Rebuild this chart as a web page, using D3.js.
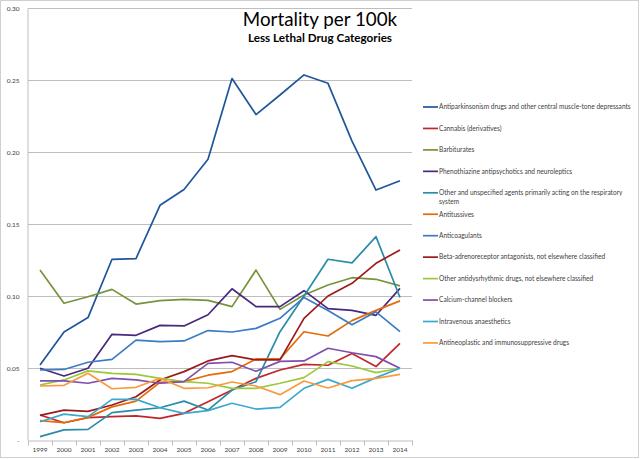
<!DOCTYPE html>
<html>
<head>
<meta charset="utf-8">
<script src="https://cdn.jsdelivr.net/npm/d3@7"></script>
<style>
  body { margin: 0; background: #fff; }
  svg { display: block; font-family: Lato, "Liberation Sans", sans-serif; }
</style>
</head>
<body>
<div id="chart"></div>
<script>
// ---------- data ----------
var years = ["1999","2000","2001","2002","2003","2004","2005","2006",
             "2007","2008","2009","2010","2011","2012","2013","2014"];

var antiparkinsonism = [0.052, 0.075, 0.085, 0.1255, 0.126, 0.163, 0.174, 0.195, 0.251, 0.226, 0.2396, 0.2535, 0.2477, 0.2076, 0.1736, 0.180];
var cannabis         = [0.0174, 0.012, 0.0155, 0.0162, 0.0167, 0.015, 0.0185, 0.0266, 0.0347, 0.0428, 0.0486, 0.0525, 0.0519, 0.060, 0.051, 0.0671];
var barbiturates     = [0.118, 0.095, 0.0995, 0.1046, 0.0944, 0.0968, 0.0977, 0.097, 0.0926, 0.118, 0.0907, 0.1007, 0.1076, 0.1127, 0.1116, 0.107];
var phenothiazine    = [0.0498, 0.0444, 0.0498, 0.0734, 0.0727, 0.0796, 0.0792, 0.087, 0.105, 0.0926, 0.0926, 0.1037, 0.0912, 0.090, 0.0866, 0.1053];
var respiratory      = [0.0023, 0.007, 0.0074, 0.019, 0.0208, 0.0224, 0.027, 0.0208, 0.0347, 0.0405, 0.0752, 0.100, 0.1255, 0.123, 0.1412, 0.099];
var antitussives     = [0.0134, 0.012, 0.0157, 0.023, 0.027, 0.040, 0.0405, 0.045, 0.0475, 0.0563, 0.0563, 0.0752, 0.0722, 0.0829, 0.090, 0.0966];
var anticoagulants   = [0.0486, 0.049, 0.054, 0.056, 0.0694, 0.0683, 0.0688, 0.076, 0.075, 0.0775, 0.0845, 0.099, 0.090, 0.080, 0.089, 0.0752];
var betaBlockers     = [0.0171, 0.0208, 0.0199, 0.0243, 0.030, 0.0417, 0.0475, 0.0549, 0.0586, 0.0556, 0.0556, 0.0845, 0.100, 0.1088, 0.1227, 0.132];
var antidysrhythmic  = [0.0382, 0.0417, 0.048, 0.0463, 0.0456, 0.0428, 0.0405, 0.0394, 0.0359, 0.0359, 0.0394, 0.0433, 0.0544, 0.0514, 0.0468, 0.0498];
var calciumBlockers  = [0.041, 0.041, 0.0394, 0.0428, 0.0417, 0.0394, 0.0405, 0.0532, 0.054, 0.0477, 0.0546, 0.0549, 0.0637, 0.0606, 0.0579, 0.0498];
var intravenous      = [0.0127, 0.018, 0.0162, 0.0282, 0.0282, 0.0224, 0.0185, 0.0204, 0.0255, 0.0215, 0.0227, 0.0359, 0.0421, 0.0359, 0.0433, 0.0498];
var antineoplastic   = [0.0375, 0.038, 0.0463, 0.0356, 0.0366, 0.0428, 0.0359, 0.0363, 0.0403, 0.0375, 0.0315, 0.041, 0.0361, 0.0412, 0.0428, 0.0456];

var seriesNames = [
  "Antiparkinsonism drugs and other central muscle-tone depressants",
  "Cannabis (derivatives)",
  "Barbiturates",
  "Phenothiazine antipsychotics and neuroleptics",
  "Other and unspecified agents primarily acting on the respiratory system",
  "Antitussives",
  "Anticoagulants",
  "Beta-adrenoreceptor antagonists, not elsewhere classified",
  "Other antidysrhythmic drugs, not elsewhere classified",
  "Calcium-channel blockers",
  "Intravenous anaesthetics",
  "Antineoplastic and immunosuppressive drugs"
];
var seriesValues = [antiparkinsonism, cannabis, barbiturates, phenothiazine, respiratory,
                    antitussives, anticoagulants, betaBlockers, antidysrhythmic,
                    calciumBlockers, intravenous, antineoplastic];
var seriesColors = ["#1F569A", "#C0262B", "#77933C", "#472A7E", "#2A8CA8", "#E36C09",
                    "#3B7CC4", "#9B1B1B", "#9BC83C", "#7E4FAE", "#3AA9CE", "#FA9A3E"];

var yTicks = [0, 0.05, 0.10, 0.15, 0.20, 0.25, 0.30];

// ---------- layout ----------
var width = 640, height = 459;

var svg = d3.select('#chart').append('svg')
    .attr('width', width)
    .attr('height', height);

svg.append('rect')
    .attr('x', 0.5).attr('y', 0.5)
    .attr('width', width - 2).attr('height', height - 2)
    .attr('fill', '#fff')
    .attr('stroke', '#D0D0D0');

var x = d3.scaleBand().domain(years).range([28, 412]);
var y = d3.scaleLinear().domain([0, 0.30]).range([440, 8]);

// gridlines
svg.append('g')
    .selectAll('line')
    .data(yTicks.slice(1))
    .enter().append('line')
    .attr('x1', 28).attr('x2', 412)
    .attr('y1', function(d) { return Math.round(y(d)) + 0.5; })
    .attr('y2', function(d) { return Math.round(y(d)) + 0.5; })
    .attr('stroke', '#BEBEBE')
    .attr('stroke-width', 1);

// y axis
var yAxis = svg.append('g')
    .attr('transform', 'translate(27.5,0)')
    .call(d3.axisLeft(y).tickValues(yTicks).tickSize(0).tickPadding(8)
        .tickFormat(function(d) { return d === 0 ? '-' : d3.format('.2f')(d); }));
yAxis.select('.domain').attr('stroke', '#BEBEBE');
yAxis.selectAll('text')
    .attr('fill', '#404040')
    .style('font-size', '6.5px')
    .style('font-family', 'Lato, sans-serif');

// x axis with ticks between categories
var xAxis = svg.append('g')
    .attr('transform', 'translate(0,440.5)')
    .call(d3.axisBottom(x).tickSize(0).tickPadding(7));
xAxis.select('.domain').attr('stroke', '#BEBEBE');
xAxis.selectAll('text')
    .attr('fill', '#404040')
    .style('font-size', '6.5px')
    .style('font-family', 'Lato, sans-serif');
xAxis.selectAll('.between')
    .data(years.concat(['end']))
    .enter().append('line')
    .attr('class', 'between')
    .attr('x1', function(d, i) { return Math.round(x.range()[0] + i * x.bandwidth()) + 0.5; })
    .attr('x2', function(d, i) { return Math.round(x.range()[0] + i * x.bandwidth()) + 0.5; })
    .attr('y1', 0).attr('y2', 5)
    .attr('stroke', '#BEBEBE');

// lines
var line = d3.line()
    .x(function(d, i) { return x(years[i]) + x.bandwidth() / 2; })
    .y(function(d) { return y(d); });

svg.append('g')
    .selectAll('path')
    .data(seriesValues)
    .enter().append('path')
    .attr('d', line)
    .attr('fill', 'none')
    .attr('stroke', function(d, i) { return seriesColors[i]; })
    .attr('stroke-width', 1.7)
    .attr('stroke-linejoin', 'round');

// title
svg.append('text')
    .attr('x', 320).attr('y', 26)
    .attr('text-anchor', 'middle')
    .style('font-size', '18.8px')
    .attr('fill', '#000')
    .text('Mortality per 100k');

svg.append('text')
    .attr('x', 320).attr('y', 42)
    .attr('text-anchor', 'middle')
    .style('font-size', '11.7px')
    .style('font-weight', 'bold')
    .attr('fill', '#000')
    .text('Less Lethal Drug Categories');

// legend
var legendTop = 107, legendStep = 21.45, wrapWidth = 192;
var legend = svg.append('g');

// size the legend font so the longest single-line label fills its width
var probe = legend.append('text').style('font-size', '10px').text(seriesNames[0]);
var legendFont = 10 * 192 / probe.node().getComputedTextLength();
probe.remove();
wrapWidth = 196;

seriesNames.forEach(function(name, i) {
    var cy = legendTop + i * legendStep;
    var item = legend.append('g');
    item.append('line')
        .attr('x1', 423).attr('x2', 438)
        .attr('y1', cy).attr('y2', cy)
        .attr('stroke', seriesColors[i])
        .attr('stroke-width', 1.7);
    var text = item.append('text')
        .attr('x', 439).attr('y', cy + 2.3)
        .attr('fill', '#404040')
        .style('font-size', legendFont + 'px');
    // simple word wrap
    var words = name.split(' ');
    var tspan = text.append('tspan').attr('x', 439);
    var current = [];
    words.forEach(function(w) {
        current.push(w);
        tspan.text(current.join(' '));
        if (tspan.node().getComputedTextLength() > wrapWidth && current.length > 1) {
            current.pop();
            tspan.text(current.join(' '));
            current = [w];
            tspan = text.append('tspan').attr('x', 439).attr('dy', 8.6).text(w);
        }
    });
});
</script>
</body>
</html>
